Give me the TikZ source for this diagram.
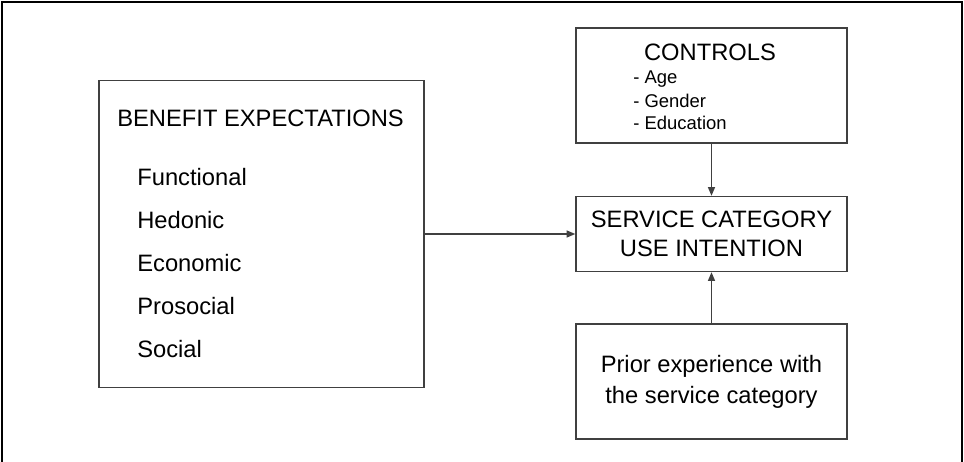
\documentclass[tikz,border=0pt]{standalone}
\usepackage{fontspec}
\setmainfont{Liberation Sans}
\usetikzlibrary{arrows.meta}
\tikzset{
  box/.style={draw=black!75,line width=0.8pt,minimum width=5.42cm},
  link/.style={draw=black!75,line width=0.8pt,-{Triangle[length=5pt,width=4pt]}},
  big/.style={font=\fontsize{13.5}{16.5}\selectfont},
  small/.style={font=\fontsize{10.5}{12}\selectfont,inner sep=0pt,anchor=west}
}
\begin{document}
\begin{tikzpicture}[x=0.02cm,y=-0.02cm]
		\useasboundingbox (0,0) rectangle (964,461);
		\fill[white] (0,0) rectangle (964,461);
		\draw[line width=1.4pt] (2,470)--(2,2)--(962,2)--(962,470);
		% left block
		\node[box,minimum width=6.5cm,minimum height=6.14cm] (benefit) at (261.5,234) {};
		\node[big,anchor=west,inner sep=0pt] (bentitle) at (117,118) {BENEFIT EXPECTATIONS};
		\foreach \t [count=\i from 0] in {Functional,Hedonic,Economic,Prosocial,Social}
			\node[big,anchor=west,inner sep=0pt] (ben\i) at (137,177+43*\i) {\t};
		% right column
		\node[box,minimum height=2.3cm] (controls) at (711.5,85.5) {};
		\node[big,inner sep=0pt] (ctitle) at (710,52) {CONTROLS};
		\node[small] (age) at (633,79) {- Age};
		\node[small] (gender) at (633,100.5) {- Gender};
		\node[small] (edu) at (633,123) {- Education};
		\node[box,big,minimum height=1.5cm,align=center] (service) at (711.5,234) {SERVICE CATEGORY\\USE INTENTION};
		\node[box,minimum height=2.3cm,align=center,font=\fontsize{13.5}{17.5}\selectfont] (prior) at (711.5,381.5) {Prior experience with\\the service category};
		% arrows
		\draw[link] (benefit) -- (service);
		\draw[link] (controls) -- (service);
		\draw[link] (prior) -- (service);
	\end{tikzpicture}
\end{document}
